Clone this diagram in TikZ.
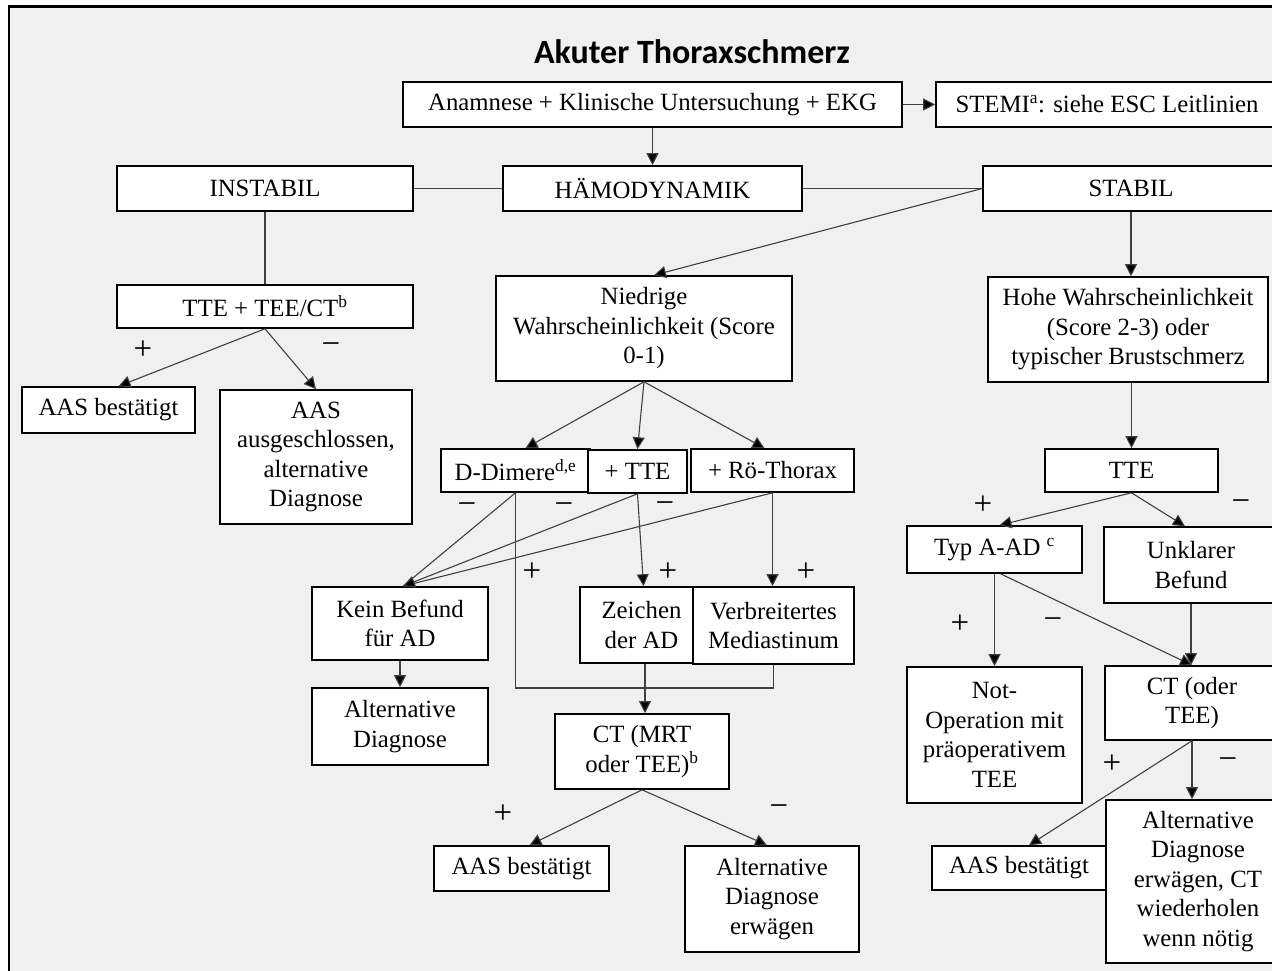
\documentclass[tikz,border=0pt]{standalone}
\usepackage{fontspec}
\setmainfont{Liberation Serif}
\newfontfamily\titlefont{Carlito}
\usetikzlibrary{arrows.meta}
\definecolor{bggray}{HTML}{F0F0F0}
\definecolor{linegray}{HTML}{404040}
\tikzset{
  box/.style={draw=black, line width=1.6pt, fill=white, inner sep=0pt, align=center,
    font=\fontsize{24.8}{29.5}\selectfont},
  conn/.style={draw=linegray, line width=1.1pt},
  arr/.style={conn, -{Triangle[length=12pt,width=12pt,fill=black]}},
  sign/.style={inner sep=0pt, font=\fontsize{33}{33}\selectfont}
}
\begin{document}
\begin{tikzpicture}[x=1pt,y=-1pt]
\useasboundingbox (0,0) rectangle (1272,971);
\fill[bggray] (9,6.5) rectangle (1280,980);
\draw[line width=2.5pt] (9,980) -- (9,6.5) -- (1280,6.5);

\node (title) at (692,52) {\titlefont\bfseries\fontsize{34}{34}\selectfont Akuter Thoraxschmerz};

\node[box, minimum width=499pt, minimum height=45pt] (anam) at (652.5,104.5) {Anamnese + Klinische Untersuchung + EKG};
\node[box, minimum width=342pt, minimum height=45pt] (stemi) at (1107,104.5) {STEMI\textsuperscript{a}: siehe ESC Leitlinien};
\node[box, minimum width=299pt, minimum height=45pt] (hamo) at (652.5,188.5) {HÄMODYNAMIK};
\node[box, minimum width=296pt, minimum height=45pt] (instabil) at (265,188.5) {INSTABIL};
\node[box, minimum width=296pt, minimum height=45pt] (stabil) at (1131,188.5) {STABIL};

\node[box, minimum width=296pt, minimum height=43pt] (tteL) at (265,306.5) {TTE + TEE/CT\textsuperscript{b}};
\node[box, minimum width=173pt, minimum height=46pt] (aasL) at (108.5,410) {AAS bestätigt};
\node[box, minimum width=192pt, minimum height=134pt] (ausg) at (316,457) {AAS\\ausgeschlossen,\\alternative\\Diagnose};

\node[box, minimum width=296pt, minimum height=105pt] (niedrig) at (644,328.5) {Niedrige\\Wahrscheinlichkeit (Score\\0-1)};
\node[box, minimum width=280pt, minimum height=105pt] (hohe) at (1128,329.5) {Hohe Wahrscheinlichkeit\\(Score 2-3) oder\\typischer Brustschmerz};

\node[box, minimum width=173pt, minimum height=43pt] (tteR) at (1131.5,470.5) {TTE};
\node[box, minimum width=175pt, minimum height=47pt] (typA) at (994.5,549.5) {Typ A-AD \textsuperscript{c}};
\node[box, minimum width=174pt, minimum height=76pt] (unkl) at (1191,565) {Unklarer\\Befund};
\node[box, minimum width=175pt, minimum height=136pt] (notop) at (994.5,735) {Not-\\Operation mit\\präoperativem\\TEE};
\node[box, minimum width=174pt, minimum height=74pt] (ctR) at (1192,703) {CT (oder\\TEE)};
\node[box, minimum width=174pt, minimum height=44pt] (aasR) at (1019,868) {AAS bestätigt};
\node[box, minimum width=184pt, minimum height=163pt] (altR) at (1198,881.5) {Alternative\\Diagnose\\erwägen, CT\\wiederholen\\wenn nötig};

\node[box, minimum width=149pt, minimum height=43pt] (ddim) at (515.5,470.5) {D-Dimere\textsuperscript{d,e}};
\node[box, minimum width=99pt, minimum height=43pt] (ptte) at (637.5,471.5) {+ TTE};
\node[box, minimum width=163pt, minimum height=43pt] (roe) at (772.5,470.5) {+ Rö-Thorax};

\node[box, minimum width=176pt, minimum height=73pt] (kein) at (400,623.5) {Kein Befund\\für AD};
\node[box, minimum width=113pt, minimum height=76pt] (zeich) at (636.5,625) {\hspace*{10pt}Zeichen\\\hspace*{10pt}der AD};
\node[box, minimum width=161pt, minimum height=77pt] (verb) at (773.5,625.5) {Verbreitertes\\Mediastinum};
\node[box, minimum width=176pt, minimum height=77pt] (altM) at (400,726.5) {Alternative\\Diagnose};
\node[box, minimum width=174pt, minimum height=75pt] (ctM) at (642,751.5) {CT (MRT\\oder TEE)\textsuperscript{b}};
\node[box, minimum width=175pt, minimum height=45pt] (aasM) at (521.5,868.5) {AAS bestätigt};
\node[box, minimum width=174pt, minimum height=106pt] (altM2) at (772,899) {Alternative\\Diagnose\\erwägen};

% connectors top
\draw[arr] (anam.south) -- (hamo.north);
\draw[arr] (anam.east) -- (stemi.west);
\draw[conn] (instabil.east) -- (hamo.west);
\draw[conn] (hamo.east) -- (stabil.west);
\draw[conn] (instabil.south) -- (tteL.north);
\draw[arr] (tteL.south) -- ([xshift=10pt]aasL.north);
\draw[arr] (tteL.south) -- (ausg.north);
\draw[arr] (stabil.west) -- ([xshift=10pt]niedrig.north);
\draw[arr] (stabil.south) -- (stabil.south |- hohe.north);
\draw[arr] (tteR.north |- hohe.south) -- (tteR.north);

% right branch
\draw[arr] (tteR.south) -- ([xshift=5pt]typA.north);
\draw[arr] (tteR.south) -- ([xshift=-6pt]unkl.north);
\draw[arr] (typA.south) -- (notop.north);
\draw[arr] ([xshift=6pt]typA.south) -- (ctR.north);
\draw[arr] (unkl.south) -- (unkl.south |- ctR.north);
\draw[arr] (ctR.south) -- (ctR.south |- altR.north);
\draw[arr] (ctR.south) -- ([xshift=10pt]aasR.north);

% middle branch
\draw[arr] (niedrig.south) -- ([xshift=10pt]ddim.north);
\draw[arr] (niedrig.south) -- (ptte.north);
\draw[arr] (niedrig.south) -- ([xshift=-8pt]roe.north);
\coordinate (kn) at ([xshift=3pt]kein.north);
\draw[conn] (ddim.south) -- (kn);
\draw[conn] (roe.south) -- (kn);
\draw[arr] (ptte.south) -- (kn);
\draw[arr] (ptte.south) -- ([xshift=7pt]zeich.north);
\draw[arr] (roe.south) -- (roe.south |- verb.north);
\coordinate (j) at (645,688);
\draw[conn] (ddim.south) |- (j) -| (verb.south);
\draw[conn] (zeich.south -| j) -- (j);
\draw[arr] (j) -- (j |- ctM.north);
\draw[arr] (kein.south) -- (altM.north);
\draw[arr] (ctM.south) -- ([xshift=8pt]aasM.north);
\draw[arr] (ctM.south) -- ([xshift=-5pt]altM2.north);

% signs
\node[sign] (s1) at (143,350) {+};
\node[sign] (s2) at (331,349) {−};
\node[sign] (s3) at (983,505) {+};
\node[sign] (s4) at (1241,506) {−};
\node[sign] (s5) at (960,624) {+};
\node[sign] (s6) at (1053,624) {−};
\node[sign] (s7) at (1112,764) {+};
\node[sign] (s8) at (1228,764) {−};
\node[sign] (s9) at (467,509) {−};
\node[sign] (s10) at (564,509) {−};
\node[sign] (s11) at (665,508) {−};
\node[sign] (s12) at (532,572) {+};
\node[sign] (s13) at (668,572) {+};
\node[sign] (s14) at (806,572) {+};
\node[sign] (s15) at (503,814) {+};
\node[sign] (s16) at (779,811) {−};
\end{tikzpicture}
\end{document}
